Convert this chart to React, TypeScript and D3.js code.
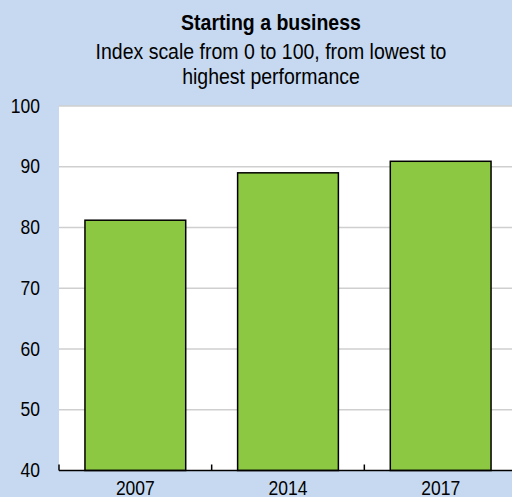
import * as d3 from "d3";
import { useEffect, useRef } from "react";

const years = ["2007", "2014", "2017"];
const scores = [81.2, 89.0, 90.9];
const yTicks = [40, 50, 60, 70, 80, 90, 100];
const title = "Starting a business";
const subtitle = ["Index scale from 0 to 100, from lowest to", "highest performance"];

const width = 512;
const height = 497;
const marginLeft = 59;
const plotRight = 517;
const marginTop = 106;
const plotBottom = 470.5;

const bg = "#c6d9f0";
const green = "#8cc842";
const font = "'Liberation Sans', Arial, sans-serif";
// the source text is drawn a little taller than it is wide
const stretch = 1.12;

const Label: React.FC<{
  x: number;
  y: number;
  size: number;
  anchor?: string;
  bold?: boolean;
  children: React.ReactNode;
}> = ({ x, y, size, anchor = "middle", bold = false, children }) => (
  <text
    transform={`translate(${x},${y}) scale(1,${stretch})`}
    textAnchor={anchor}
    fontFamily={font}
    fontSize={size}
    fontWeight={bold ? "bold" : "normal"}
    fill="#000"
  >
    {children}
  </text>
);

const App: React.FC = () => {
  const xAxisRef = useRef<SVGGElement>(null);

  const x = d3.scaleBand(years, [marginLeft, plotRight]).paddingInner(0.34).paddingOuter(0.17);
  const y = d3.scaleLinear([40, 100], [plotBottom, marginTop]);

  useEffect(() => {
    const g = d3.select(xAxisRef.current);
    g.selectAll("*").remove();
    // category separators: ticks at the band edges, pointing up into the plot
    const edges = d3.range(years.length + 1).map((i) => marginLeft + i * x.step());
    g.selectAll("line.tick")
      .data(edges)
      .join("line")
      .attr("class", "tick")
      .attr("x1", (d) => d)
      .attr("x2", (d) => d)
      .attr("y1", plotBottom)
      .attr("y2", plotBottom - 6)
      .attr("stroke", "#000")
      .attr("stroke-width", 1.5);
    g.append("line")
      .attr("x1", marginLeft)
      .attr("x2", plotRight)
      .attr("y1", plotBottom)
      .attr("y2", plotBottom)
      .attr("stroke", "#000")
      .attr("stroke-width", 1.5);
  }, [x]);

  return (
    <svg
      width={width}
      height={height}
      style={{ position: "absolute", left: 0, top: 0, display: "block" }}
    >
      <rect width={width} height={height} fill={bg} />
      <rect
        x={marginLeft}
        y={marginTop}
        width={plotRight - marginLeft}
        height={plotBottom - marginTop}
        fill="#fff"
      />
      {yTicks.slice(1).map((t) => (
        <line
          key={t}
          x1={marginLeft}
          x2={plotRight}
          y1={y(t)}
          y2={y(t)}
          stroke="#cfcfcf"
          strokeWidth={1.5}
        />
      ))}
      {years.map((yr, i) => (
        <rect
          key={yr}
          x={x(yr)}
          y={y(scores[i])}
          width={x.bandwidth()}
          height={plotBottom - y(scores[i])}
          fill={green}
          stroke="#000"
          strokeWidth={1.5}
        />
      ))}
      <g ref={xAxisRef} />
      {yTicks.map((t) => (
        <Label key={t} x={40} y={y(t) + 6.5} size={17.5} anchor="end">
          {t}
        </Label>
      ))}
      {years.map((yr) => (
        <Label key={yr} x={(x(yr) ?? 0) + x.bandwidth() / 2} y={494.5} size={17.5}>
          {yr}
        </Label>
      ))}
      <Label x={271} y={30} size={19.5} bold>
        {title}
      </Label>
      {subtitle.map((s, i) => (
        <Label key={i} x={271} y={59 + i * 25} size={19.5}>
          {s}
        </Label>
      ))}
    </svg>
  );
};

export default App;
